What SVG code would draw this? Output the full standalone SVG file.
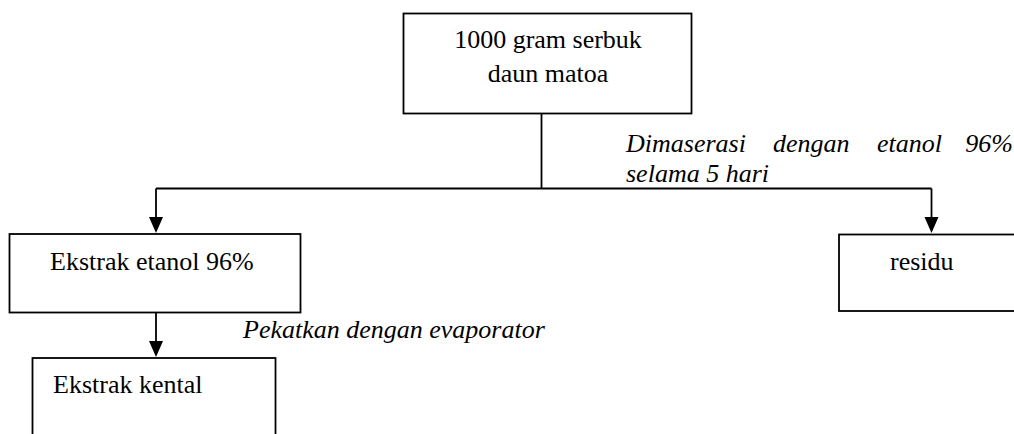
<svg xmlns="http://www.w3.org/2000/svg" width="1014" height="434" viewBox="0 0 1014 434">
  <style>
    .box { fill: #ffffff; stroke: #000000; stroke-width: 1.8; }
    .wire { fill: none; stroke: #000000; stroke-width: 1.8; }
    .head { fill: #000000; }
    .label { font-family: "Liberation Serif", "Times New Roman", serif; font-size: 26px; fill: #000000; }
    .note { font-family: "Liberation Serif", "Times New Roman", serif; font-size: 26px; font-style: italic; fill: #000000; }
  </style>
  <rect width="1014" height="434" fill="#ffffff"/>

  <g id="connectors">
    <!-- trunk from the raw material down to the split -->
    <path class="wire" d="M541.5,113.5 V188.5"/>
    <path class="wire" d="M156,188.5 H931.5"/>
    <!-- split to extract and residue -->
    <path class="wire" d="M156,188.5 V218"/>
    <path class="head" d="M149,217 L163,217 L156,233 Z"/>
    <path class="wire" d="M931.5,188.5 V218"/>
    <path class="head" d="M924.5,217 L938.5,217 L931.5,233 Z"/>
    <!-- extract to thick extract -->
    <path class="wire" d="M156,312.5 V342"/>
    <path class="head" d="M149,341 L163,341 L156,357 Z"/>
  </g>

  <g id="serbuk">
    <rect class="box" x="403.5" y="13.5" width="288" height="100"/>
    <text class="label" x="548" y="48" text-anchor="middle">1000 gram serbuk</text>
    <text class="label" x="548" y="82" text-anchor="middle">daun matoa</text>
  </g>

  <g id="maserasi-note">
    <!-- justified line: words placed individually -->
    <text class="note" y="152"><tspan x="626">Dimaserasi</tspan><tspan x="773">dengan</tspan><tspan x="877">etanol</tspan><tspan x="1013" text-anchor="end">96%</tspan></text>
    <text class="note" x="626" y="182">selama 5 hari</text>
  </g>

  <g id="ekstrak-etanol">
    <rect class="box" x="9.5" y="234" width="291" height="78.5"/>
    <text class="label" x="50" y="270">Ekstrak etanol 96%</text>
  </g>

  <g id="residu">
    <rect class="box" x="839" y="234.5" width="190" height="76.5"/>
    <text class="label" x="890" y="270">residu</text>
  </g>

  <g id="evaporator-note">
    <text class="note" x="243" y="338">Pekatkan dengan evaporator</text>
  </g>

  <g id="ekstrak-kental">
    <rect class="box" x="32.5" y="358" width="243" height="100"/>
    <text class="label" x="53" y="393">Ekstrak kental</text>
  </g>
</svg>
